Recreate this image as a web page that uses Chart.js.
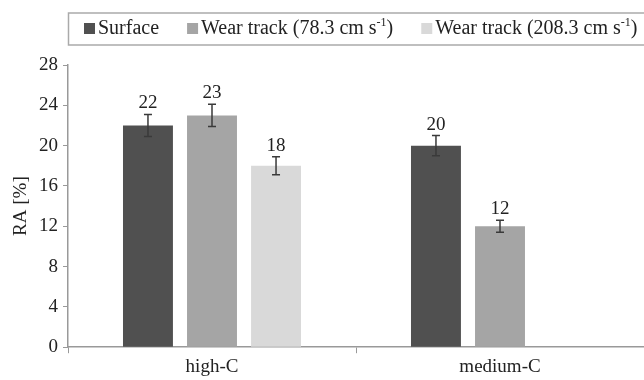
<!DOCTYPE html>
<html>
<head>
<meta charset="utf-8">
<script src="https://cdn.jsdelivr.net/npm/chart.js@4/dist/chart.umd.min.js"></script>
<style>
  html, body { margin: 0; padding: 0; background: #fff; }
  #wrap { width: 644px; height: 380px; }
</style>
</head>
<body>
<div id="wrap"><canvas id="raChart"></canvas></div>
<script>
const categories = ['high-C', 'medium-C'];
// legend names: main text, superscript, closing text
const seriesNames = [
    ['Surface', '', ''],
    ['Wear track (78.3 cm s', '-1', ')'],
    ['Wear track (208.3 cm s', '-1', ')']
];
const surface = [22, 20];
const wear78 = [23, 12];
const wear208 = [18, null];
const surfaceErr = [1.1, 1.0];
const wear78Err = [1.1, 0.6];
const wear208Err = [0.9, null];
const yTicks = [0, 4, 8, 12, 16, 20, 24, 28];

const serif = 'Liberation Serif';
const colors = ['#505050', '#a5a5a5', '#d9d9d9'];

// error bars + value labels, drawn from the scales
const errorBars = {
    id: 'errorBars',
    afterDatasetsDraw(chart) {
        const ctx = chart.ctx;
        const y = chart.scales.y;
        ctx.save();
        chart.data.datasets.forEach(function (ds, i) {
            const meta = chart.getDatasetMeta(i);
            meta.data.forEach(function (bar, j) {
                const v = ds.data[j];
                if (v == null) return;
                const e = ds.err[j] || 0;
                const top = y.getPixelForValue(v + e);
                const bot = y.getPixelForValue(v - e);
                ctx.strokeStyle = '#3a3a3a';
                ctx.lineWidth = 1.5;
                ctx.beginPath();
                ctx.moveTo(bar.x, top); ctx.lineTo(bar.x, bot);
                ctx.moveTo(bar.x - 4, top); ctx.lineTo(bar.x + 4, top);
                ctx.moveTo(bar.x - 4, bot); ctx.lineTo(bar.x + 4, bot);
                ctx.stroke();
                ctx.fillStyle = '#222';
                ctx.font = '19px "' + serif + '"';
                ctx.textAlign = 'center';
                ctx.textBaseline = 'alphabetic';
                ctx.fillText(String(v), bar.x, top - 6);
            });
        });
        ctx.restore();
    }
};

// framed legend with superscript units
const legendBox = {
    id: 'legendBox',
    afterDraw(chart) {
        const ctx = chart.ctx;
        ctx.save();
        ctx.strokeStyle = '#aaa';
        ctx.lineWidth = 1.5;
        ctx.strokeRect(68.5, 13, 600, 32);
        let x = 84;
        const cy = 29;
        seriesNames.forEach(function (n, i) {
            ctx.fillStyle = colors[i];
            ctx.fillRect(x, cy - 6, 11, 11);
            x += 14;
            ctx.fillStyle = '#222';
            ctx.textBaseline = 'middle';
            ctx.textAlign = 'left';
            ctx.font = '20px "' + serif + '"';
            ctx.fillText(n[0], x, cy);
            x += ctx.measureText(n[0]).width;
            if (n[1]) {
                ctx.font = '12px "' + serif + '"';
                ctx.fillText(n[1], x, cy - 6);
                x += ctx.measureText(n[1]).width;
                ctx.font = '20px "' + serif + '"';
                ctx.fillText(n[2], x, cy);
                x += ctx.measureText(n[2]).width;
            }
            x += 28;
        });
        ctx.restore();
    }
};

new Chart(document.getElementById('raChart'), {
    type: 'bar',
    data: {
        labels: categories,
        datasets: [
            { label: 'Surface', data: surface, err: surfaceErr, backgroundColor: colors[0] },
            { label: 'Wear track (78.3 cm s-1)', data: wear78, err: wear78Err, backgroundColor: colors[1] },
            { label: 'Wear track (208.3 cm s-1)', data: wear208, err: wear208Err, backgroundColor: colors[2] }
        ]
    },
    options: {
        responsive: true,
        maintainAspectRatio: false,
        animation: false,
        categoryPercentage: 0.667,
        barPercentage: 0.78,
        layout: { padding: { top: 65, right: 0, left: 0, bottom: 0 } },
        plugins: {
            legend: { display: false },
            tooltip: { enabled: false }
        },
        scales: {
            x: {
                grid: { drawOnChartArea: false, color: '#999', tickLength: 6 },
                border: { color: '#999', width: 1.5 },
                ticks: { color: '#222', font: { family: serif, size: 19 }, padding: 2 }
            },
            y: {
                min: 0,
                max: 28,
                afterBuildTicks(scale) {
                    scale.ticks = yTicks.map(function (v) { return { value: v }; });
                },
                afterFit(scale) { scale.width = 68; },
                grid: { drawOnChartArea: false, color: '#999', tickLength: 5 },
                border: { color: '#999', width: 1.5 },
                ticks: { color: '#222', font: { family: serif, size: 19 }, padding: 5 },
                title: { display: true, text: 'RA [%]', color: '#222', font: { family: serif, size: 19 }, padding: { top: 10, bottom: 0 } }
            }
        }
    },
    plugins: [errorBars, legendBox]
});
</script>
</body>
</html>
